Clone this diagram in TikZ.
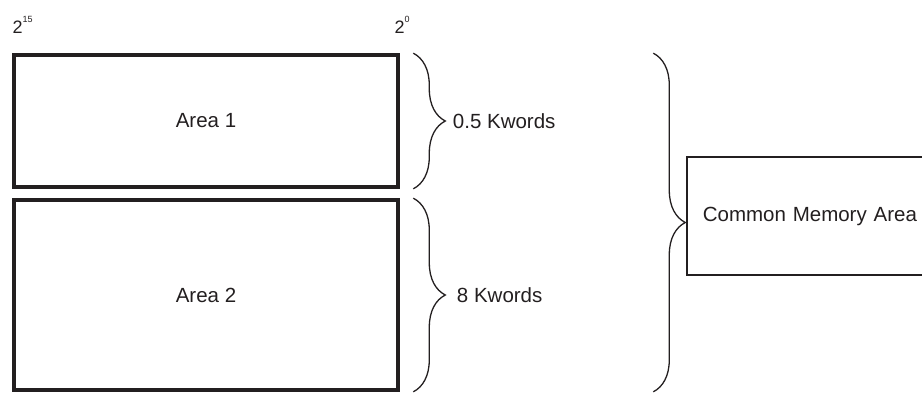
\documentclass[tikz,border=0pt]{standalone}
\usepackage{fontspec}
\setmainfont{Liberation Sans}
\usetikzlibrary{positioning, decorations.pathreplacing}
\definecolor{ink}{RGB}{35,31,32}

\begin{document}
\begin{tikzpicture}[
    x=1pt, y=-1pt,
    every node/.style={text=ink, font=\fontsize{20.5}{24}\selectfont},
    area/.style={rectangle, draw=ink, line width=3.6pt, minimum width=384pt},
    sizebrace/.style={draw=ink, line width=1.3pt, decorate,
        decoration={brace, amplitude=32pt}},
    bitlabel/.style={inner sep=0pt, anchor=base west, font=\fontsize{18}{20}\selectfont},
    sizelabel/.style={inner sep=0pt, anchor=west},
    common/.style={rectangle, draw=ink, line width=1.6pt, minimum height=118pt,
        inner xsep=16pt, text width=240pt, align=left, anchor=west}
]
\useasboundingbox (0,0) rectangle (922,392);

% Bit numbering
\node[bitlabel] (msb) at (12.5,33) {2\raisebox{10.5pt}{\fontsize{9}{10}\selectfont 15}};
\node[bitlabel] (lsb) at (394.5,33) {2\raisebox{10.5pt}{\fontsize{9}{10}\selectfont 0}};

% Memory areas
\node[area, minimum height=132pt] (area1) at (206,121) {Area 1};
\node[area, minimum height=190pt] (area2) at (206,295) {Area 2};

% Common memory area
\node[common] (cma) at (686,216) {Common Memory Area};

% Sizes
\draw[sizebrace] ([xshift=13.5pt]area1.north east) -- node[sizelabel, xshift=39pt] (size1) {0.5 Kwords} ([xshift=13.5pt]area1.south east);
\draw[sizebrace] ([xshift=13.5pt]area2.north east) -- node[sizelabel, xshift=43pt] (size2) {8 Kwords} ([xshift=13.5pt]area2.south east);
\draw[sizebrace] ([xshift=253.5pt]area1.north east) -- ([xshift=253.5pt]area2.south east);

\end{tikzpicture}
\end{document}
